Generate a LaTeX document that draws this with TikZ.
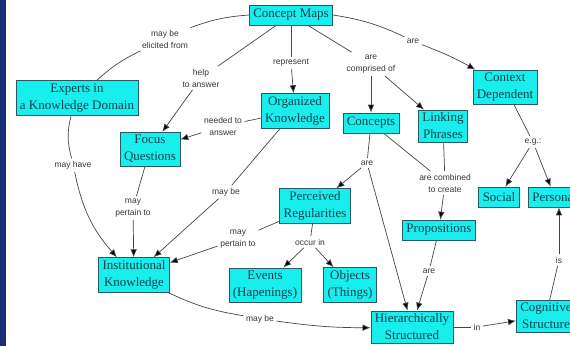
\documentclass[tikz,border=0pt]{standalone}
\usepackage{fontspec}
\usetikzlibrary{arrows.meta}
\newfontfamily\boxserif{Liberation Serif}
\newfontfamily\phrasesans{Liberation Sans}

\definecolor{boxfill}{RGB}{24,238,238}
\definecolor{boxline}{RGB}{40,90,100}
\definecolor{boxtext}{RGB}{16,64,76}
\definecolor{linkline}{RGB}{70,70,70}
\definecolor{phrasetext}{RGB}{55,55,55}
\definecolor{stripblue}{RGB}{26,46,120}

\tikzstyle{concept} = [draw=boxline, fill=boxfill, text=boxtext, line width=0.6pt, align=center, inner xsep=4pt, inner ysep=3pt, minimum height=20pt, font={\boxserif\fontsize{13}{17}\selectfont}]
\tikzstyle{phrase} = [text=phrasetext, align=center, inner sep=2.5pt, font={\phrasesans\fontsize{8.5}{12}\selectfont}]
\tikzstyle{link} = [draw=linkline, line width=0.7pt]
\tikzstyle{arrow} = [link, -{Latex[length=8pt,width=6.5pt,fill=black]}]

\begin{document}
\begin{tikzpicture}[x=1pt,y=1pt]
      \useasboundingbox (0,0) rectangle (570,-346);
      \clip (0,0) rectangle (570,-346);
      \fill[white] (0,0) rectangle (570,-346);
      \fill[stripblue] (0,0) rectangle (6,-346);

      % concepts
      \node[concept] (cmap) at (291,-15) {Concept Maps};
      \node[concept] (experts) at (77,-98) {Experts in\\a Knowledge Domain};
      \node[concept] (focus) at (150,-149) {Focus\\Questions};
      \node[concept] (organized) at (295,-111) {Organized\\Knowledge};
      \node[concept] (concepts) at (371,-123) {Concepts};
      \node[concept] (linking) at (443,-126) {Linking\\Phrases};
      \node[concept] (context) at (505,-87) {Context\\Dependent};
      \node[concept] (social) at (499,-197) {Social};
      \node[concept, anchor=west] (personal) at (528,-197) {Personal};
      \node[concept] (prop) at (439,-230) {Propositions};
      \node[concept] (perceived) at (315,-206) {Perceived\\Regularities};
      \node[concept] (events) at (265,-285) {Events\\(Hapenings)};
      \node[concept] (objects) at (350,-285) {Objects\\(Things)};
      \node[concept] (inst) at (134,-275) {Institutional\\Knowledge};
      \node[concept] (hier) at (412,-327) {Hierarchically\\Structured};
      \node[concept, anchor=west] (cognitive) at (516,-316) {Cognitive\\Structure};

      % linking phrases
      \node[phrase] (lelic) at (165,-39) {may be\\elicited from};
      \node[phrase] (lhelp) at (201,-78) {help\\to answer};
      \node[phrase] (lrep) at (291,-63) {represent};
      \node[phrase] (lcomp) at (371,-64) {are\\comprised of};
      \node[phrase] (lare) at (413,-41) {are};
      \node[phrase] (lneed) at (223,-126) {needed to\\answer};
      \node[phrase] (lhave) at (73,-165) {may have};
      \node[phrase] (lpert) at (133,-208) {may\\pertain to};
      \node[phrase] (lmaybe) at (226,-192) {may be};
      \node[phrase] (lpert2) at (238,-239) {may\\pertain to};
      \node[phrase] (lmaybe2) at (260,-319) {may be};
      \node[phrase] (lare2) at (367,-163) {are};
      \node[phrase] (lcomb) at (445,-183) {are combined\\to create};
      \node[phrase] (leg) at (533,-142) {e.g.:};
      \node[phrase] (loccur) at (310,-242) {occur in};
      \node[phrase] (lare3) at (429,-271) {are};
      \node[phrase] (lin) at (477,-327) {in};
      \node[phrase] (lis) at (559,-260) {is};

      % connectors
      \draw[link] (cmap.west) to[bend right=8] (lelic);
      \draw[link] (lelic) to[bend right=8] (experts);
      \draw[link] (cmap) -- (lhelp);
      \draw[arrow] (lhelp) -- (focus);
      \draw[link] (cmap) -- (lrep);
      \draw[arrow] (lrep) -- (organized);
      \draw[link] (cmap) -- (lcomp);
      \draw[arrow] (lcomp) -- (concepts);
      \draw[arrow] (lcomp) -- (linking);
      \draw[link] (cmap.east) to[bend left=8] (lare);
      \draw[arrow] (lare) to[bend left=4] (context);
      \draw[link] (organized) -- (lneed);
      \draw[arrow] (lneed) -- (focus);
      \draw[link] (experts) to[bend right=15] (lhave);
      \draw[arrow] (lhave) to[bend right=15] (inst);
      \draw[link] (focus) -- (lpert);
      \draw[arrow] (lpert) -- (inst);
      \draw[link] (organized) -- (lmaybe);
      \draw[arrow] (lmaybe) -- (inst);
      \draw[link] (perceived) -- (lpert2);
      \draw[arrow] (lpert2) -- (inst);
      \draw[link] (inst) to[bend right=8] (lmaybe2);
      \draw[arrow] (lmaybe2) to[bend right=4] (hier);
      \draw[link] (concepts) -- (lare2);
      \draw[arrow] (lare2) -- (perceived);
      \draw[arrow] (lare2) -- (hier);
      \draw[link] (concepts) -- (lcomb);
      \draw[link] (linking) -- (lcomb);
      \draw[arrow] (lcomb) -- (prop);
      \draw[link] (prop) -- (lare3);
      \draw[arrow] (lare3) -- (hier);
      \draw[link] (context) -- (leg);
      \draw[arrow] (leg) -- (social);
      \draw[arrow] (leg) -- (personal);
      \draw[link] (perceived) -- (loccur);
      \draw[arrow] (loccur) -- (events);
      \draw[arrow] (loccur) -- (objects);
      \draw[link] (hier) -- (lin);
      \draw[arrow] (lin) -- (cognitive);
      \draw[link] (cognitive) -- (lis);
      \draw[arrow] (lis) -- (personal.south west -| lis);
\end{tikzpicture}
\end{document}
